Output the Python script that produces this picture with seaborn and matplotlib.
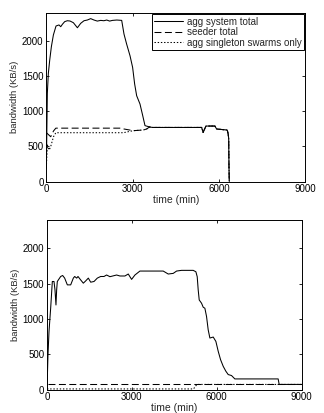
import matplotlib
matplotlib.use("Agg")
import matplotlib.pyplot as plt
import seaborn as sns
import pandas as pd

# ---- top panel: time (min) / bandwidth (KB/s) ----
top_total_t = [0, 35, 70, 118, 175, 245, 337, 441, 500, 560, 638, 730, 823, 940,
               1080, 1195, 1310, 1425, 1542, 1657, 1773, 1890, 2000, 2100, 2200,
               2300, 2450, 2620, 2700, 2790, 2910, 3000, 3070, 3140, 3256, 3350,
               3430, 3546, 3660]
top_total_v = [180, 1256, 1540, 1730, 1920, 2087, 2215, 2230, 2205, 2240, 2277,
               2290, 2286, 2262, 2190, 2253, 2290, 2300, 2320, 2300, 2285, 2295,
               2290, 2300, 2285, 2295, 2300, 2295, 2100, 1960, 1790, 1625, 1390,
               1222, 1104, 940, 796, 782, 772]
# shared tail: after ~3600 min all three curves coincide
top_tail_t = [3700, 5400, 5450, 5550, 5860, 5920, 6290, 6320, 6340, 6350, 6360]
top_tail_v = [770, 770, 700, 790, 790, 748, 733, 680, 615, 210, 0]

top_seeder_t = [15, 153, 250, 330, 2620, 2700, 3023, 3370, 3488, 3580, 3660]
top_seeder_v = [690, 638, 720, 760, 760, 748, 724, 734, 748, 775, 772]

top_single_t = [0, 35, 100, 150, 200, 250, 330, 2676, 3023, 3370, 3488, 3580, 3660]
top_single_v = [200, 520, 449, 496, 567, 638, 695, 695, 724, 734, 748, 775, 772]

# ---- bottom panel ----
bot_total_t = [0, 12, 35, 71, 130, 189, 248, 283, 318, 342, 365, 484, 554, 625,
               720, 838, 932, 980, 1050, 1097, 1190, 1285, 1368, 1462, 1545,
               1663, 1780, 1898, 2016, 2108, 2226, 2462, 2580, 2756, 2874, 2992,
               3110, 3286, 4110, 4287, 4464, 4582, 4758, 5170, 5265, 5312, 5347,
               5383, 5465, 5524, 5583, 5642, 5700, 5760, 5878, 5972, 6055, 6137,
               6231, 6325, 6408, 6525, 6643, 8174, 8210, 9000]
bot_total_v = [0, 156, 488, 820, 1152, 1532, 1532, 1413, 1199, 1413, 1532, 1603,
               1617, 1580, 1484, 1484, 1580, 1603, 1580, 1603, 1555, 1508, 1540,
               1580, 1522, 1532, 1580, 1603, 1603, 1624, 1600, 1624, 1610, 1610,
               1638, 1562, 1624, 1680, 1680, 1638, 1647, 1680, 1690, 1690, 1670,
               1600, 1412, 1270, 1224, 1167, 1153, 1035, 847, 730, 744, 682, 541,
               424, 329, 259, 212, 198, 150, 150, 72, 72]
bot_seeder_t = [40, 9000]
bot_seeder_v = [72, 72]
bot_single_t = [0, 5180, 5300, 9000]
bot_single_v = [8, 8, 72, 72]

labels = ["agg system total", "seeder total", "agg singleton swarms only"]
x_ticks = [0, 3000, 6000, 9000]
y_ticks = [0, 500, 1000, 1500, 2000]

sns.set_style("ticks")
plt.rcParams["font.family"] = ["Liberation Sans", "DejaVu Sans"]
plt.rcParams["lines.scale_dashes"] = False
plt.rcParams["xtick.direction"] = "in"
plt.rcParams["ytick.direction"] = "in"

styles = {
    labels[0]: "-",
    labels[1]: (0, (5, 2.5)),
    labels[2]: (0, (1, 1.3)),
}


def draw(ax, series, legend):
    frames = []
    for name, t, v in series:
        frames.append(pd.DataFrame({"time": t, "bw": v, "series": name}))
    df = pd.concat(frames, ignore_index=True)
    for name, _, _ in series:
        sub = df[df["series"] == name]
        sns.lineplot(data=sub, x="time", y="bw", ax=ax, color="black",
                     linewidth=0.75, linestyle=styles[name], estimator=None,
                     sort=False, label=name if legend else None)
    ax.set_xlim(0, 9000)
    ax.set_ylim(0, 2400)
    ax.set_xticks(x_ticks)
    ax.set_yticks(y_ticks)
    ax.set_xticklabels([str(x) for x in x_ticks])
    ax.set_yticklabels([str(y) for y in y_ticks])
    ax.tick_params(which="both", top=True, right=True, length=2.5, width=0.6,
                   labelsize=7, pad=2, colors="black")
    for s in ax.spines.values():
        s.set_visible(True)
        s.set_linewidth(0.7)
        s.set_color("black")
    ax.set_xlabel("time (min)", fontsize=7.5, labelpad=0.5)
    ax.set_ylabel("bandwidth (KB/s)", fontsize=6.8, labelpad=2)
    if legend:
        leg = ax.legend(loc="upper right", bbox_to_anchor=(1, 1),
                        borderaxespad=0.15, fontsize=7, handlelength=2.9,
                        handletextpad=0.4, borderpad=0.25, labelspacing=0.05,
                        fancybox=False, framealpha=1, edgecolor="black")
        leg.get_frame().set_linewidth(0.7)
    else:
        lg = ax.get_legend()
        if lg is not None:
            lg.remove()


fig = plt.figure(figsize=(3.24, 4.13), dpi=100)
ax_top = fig.add_axes([0.143, 0.5605, 0.799, 0.408])
ax_bot = fig.add_axes([0.145, 0.0569, 0.7856, 0.4097])

draw(ax_top, [
    (labels[0], top_total_t + top_tail_t, top_total_v + top_tail_v),
    (labels[1], top_seeder_t + top_tail_t, top_seeder_v + top_tail_v),
    (labels[2], top_single_t + top_tail_t, top_single_v + top_tail_v),
], legend=True)

draw(ax_bot, [
    (labels[0], bot_total_t, bot_total_v),
    (labels[1], bot_seeder_t, bot_seeder_v),
    (labels[2], bot_single_t, bot_single_v),
], legend=False)

fig.savefig("out.png", dpi=100)
